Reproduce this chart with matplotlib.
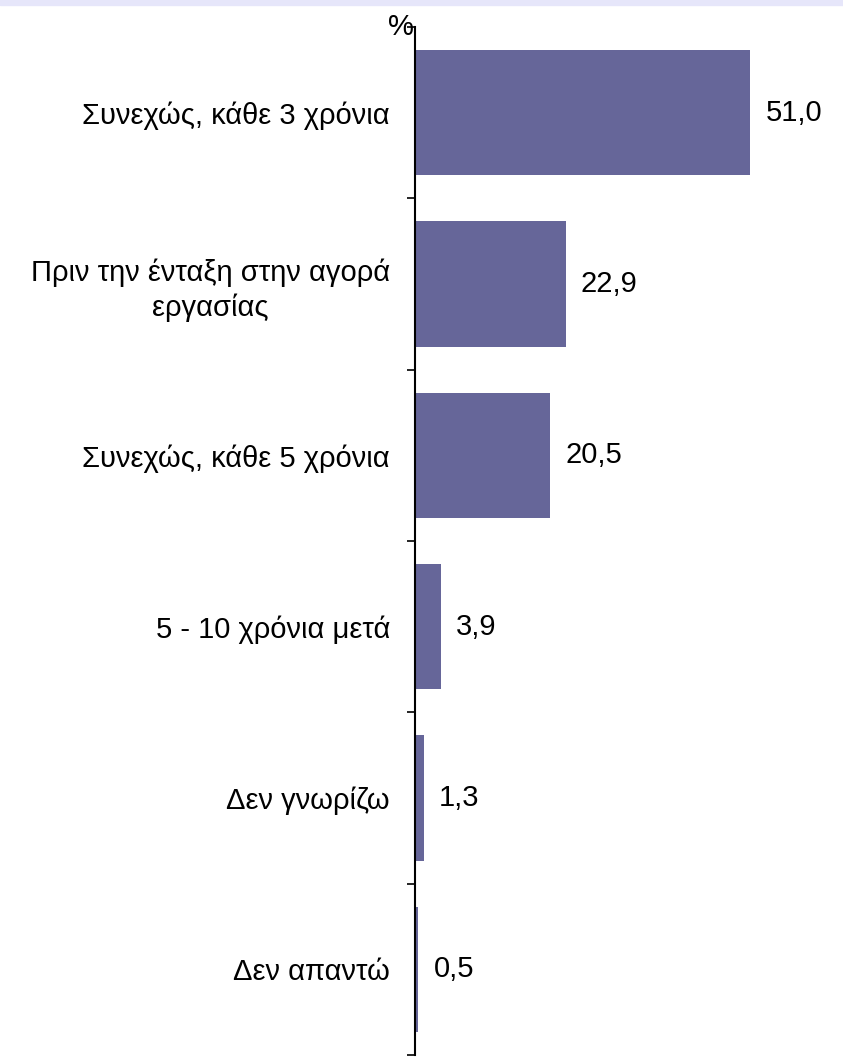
import matplotlib
matplotlib.use("Agg")
import matplotlib.pyplot as plt
import numpy as np
from matplotlib.patches import Rectangle

categories = ["Συνεχώς, κάθε 3 χρόνια",
              "Πριν την ένταξη στην αγορά\nεργασίας",
              "Συνεχώς, κάθε 5 χρόνια",
              "5 - 10 χρόνια μετά",
              "Δεν γνωρίζω",
              "Δεν απαντώ"]
values = [51.0, 22.9, 20.5, 3.9, 1.3, 0.5]
value_labels = ["51,0", "22,9", "20,5", "3,9", "1,3", "0,5"]

plt.rcParams['font.family'] = ['Liberation Sans', 'DejaVu Sans']

W, H = 843, 1058
fig = plt.figure(figsize=(W/100, H/100), dpi=100)

# top lavender strip
fig.patches.append(Rectangle((0, 1 - 5/H), 1, 5/H, transform=fig.transFigure,
                             color="#E6E6FA", zorder=0))

ax_left = 415 / W
ax_bottom = 1 - 1055 / H
ax_top = 1 - 27 / H
ax = fig.add_axes([ax_left, ax_bottom, 1 - ax_left, ax_top - ax_bottom])
ax.set_facecolor("none")

FS = 21
y = np.arange(len(categories))
ax.barh(y, values, height=0.73, color="#666699", zorder=2)
ax.set_ylim(len(categories) - 0.5, -0.5)
ax.set_xlim(0, 65.1)

for yi, v, lab in zip(y, values, value_labels):
    ax.annotate(lab, (v, yi), xytext=(11, 0), textcoords="offset points",
                ha="left", va="center", fontsize=FS, color="black")

ax.set_yticks(y)
ax.set_yticklabels(categories, fontsize=FS)
for lbl in ax.get_yticklabels():
    lbl.set_ha("right")
    lbl.set_multialignment("center")
    lbl.set_linespacing(1.3)
ax.tick_params(axis="y", which="major", length=0, pad=18)
ax.set_yticks(np.arange(-0.5, len(categories)), minor=True)
ax.tick_params(axis="y", which="minor", length=6, width=1.2, direction="out", color="black")

for s in ["top", "right", "bottom"]:
    ax.spines[s].set_visible(False)
ax.spines["left"].set_linewidth(1.5)
ax.set_xticks([])

fig.text(414 / W, 1 - 27 / H, "%", ha="right", va="center", fontsize=FS)

fig.savefig("out.png", dpi=100)
